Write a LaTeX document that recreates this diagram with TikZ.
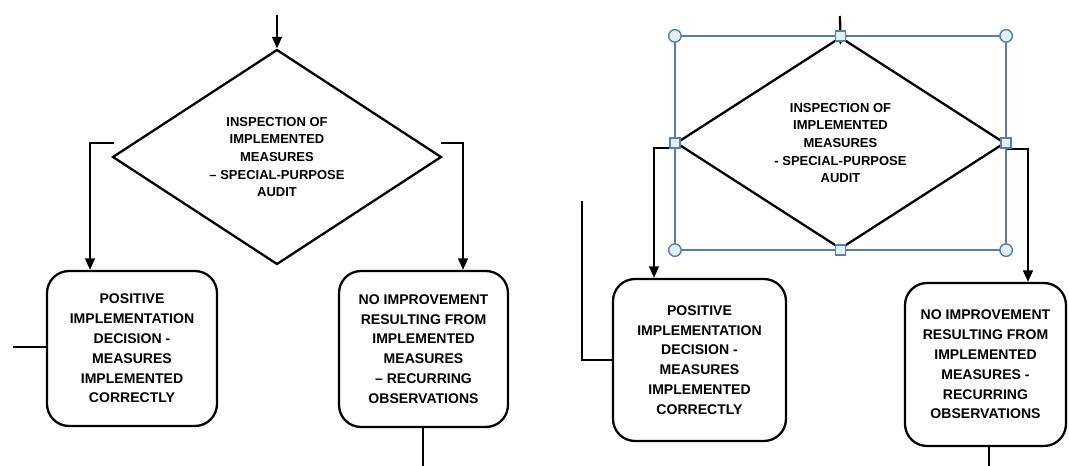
\documentclass[tikz,border=0pt]{standalone}
\usepackage{fontspec}
\setmainfont{Liberation Sans}
\usetikzlibrary{shapes.geometric,arrows.meta}
\definecolor{selblue}{RGB}{88,126,168}
\definecolor{handlefill}{RGB}{226,240,246}
\begin{document}
\begin{tikzpicture}[x=0.02cm, y=-0.02cm, line width=1.3pt, >={Triangle[length=6.5pt,width=5.5pt]},
	decision/.style={draw=black, text=black, shape=diamond, inner sep=0pt, align=center, font=\bfseries\fontsize{7.4}{10}\selectfont},
	outcome/.style={draw=black, text=black, shape=rectangle, rounded corners=0.44cm, inner sep=0pt, align=center, font=\bfseries\fontsize{8}{11.3}\selectfont},
	selframe/.style={draw=selblue, line width=1.3pt},
	cornerhandle/.style={draw=selblue, fill=handlefill, line width=0.8pt, shape=circle, minimum size=0.25cm, inner sep=0pt},
	sidehandle/.style={draw=selblue, fill=handlefill, line width=0.8pt, shape=rectangle, minimum size=0.2cm, inner sep=0pt}]
	\useasboundingbox (0,0) rectangle (1069,466);

	% left copy of the chart
	\node[decision, minimum width=6.58cm, minimum height=4.3cm] (d_a) at (277,157) {INSPECTION OF\\IMPLEMENTED\\MEASURES\\– SPECIAL-PURPOSE\\AUDIT};
	\node[outcome, minimum width=3.4cm, minimum height=3.1cm] (p_a) at (132,348.5) {POSITIVE\\IMPLEMENTATION\\DECISION -\\MEASURES\\IMPLEMENTED\\CORRECTLY};
	\node[outcome, minimum width=3.38cm, minimum height=3.12cm] (p_b) at (423.5,349) {NO IMPROVEMENT\\RESULTING FROM\\IMPLEMENTED\\MEASURES\\– RECURRING\\OBSERVATIONS};

	\coordinate (in_a) at (277,15);
	\coordinate (la_start) at (114,143);
	\coordinate (la_bend) at (90,143);
	\coordinate (ra_start) at (441,143);
	\coordinate (ra_bend) at (463,143);
	\coordinate (loop_a) at (13,347);
	\coordinate (out_a) at (423,466);

	\draw[->] (in_a) -- (d_a.north);
	\draw[->] (la_start) -- (la_bend) -- (la_bend |- p_a.north);
	\draw[->] (ra_start) -- (ra_bend) -- (ra_bend |- p_b.north);
	\draw (loop_a) -- (loop_a -| p_a.west);
	\draw (out_a |- p_b.south) -- (out_a);

	% right copy, diamond selected
	\node[decision, minimum width=6.58cm, minimum height=4.24cm] (d_b) at (840.5,143) {INSPECTION OF\\IMPLEMENTED\\MEASURES\\- SPECIAL-PURPOSE\\AUDIT};
	\node[outcome, minimum width=3.46cm, minimum height=3.24cm] (p_c) at (699.5,360) {POSITIVE\\IMPLEMENTATION\\DECISION -\\MEASURES\\IMPLEMENTED\\CORRECTLY};
	\node[outcome, minimum width=3.22cm, minimum height=3.26cm] (p_d) at (985.5,364.5) {NO IMPROVEMENT\\RESULTING FROM\\IMPLEMENTED\\MEASURES -\\RECURRING\\OBSERVATIONS};

	\coordinate (in_b) at (840,16);
	\coordinate (lb_start) at (676,148);
	\coordinate (lb_bend) at (654,148);
	\coordinate (rb_start) at (1005,149);
	\coordinate (rb_bend) at (1028,149);
	\coordinate (loop_b) at (582,201);
	\coordinate (out_b) at (989,466);

	\draw[->] (in_b) -- ([yshift=-0.18cm]d_b.north);
	\draw[->] (lb_start) -- (lb_bend) -- (lb_bend |- p_c.north);
	\draw[->] (rb_start) -- (rb_bend) -- (rb_bend |- p_d.north);
	\draw (loop_b) |- (p_c.west);
	\draw (out_b |- p_d.south) -- (out_b);

	\draw[selframe] (d_b.west |- d_b.north) rectangle (d_b.east |- d_b.south);
	\foreach \c [count=\i] in {d_b.west |- d_b.north, d_b.east |- d_b.north, d_b.west |- d_b.south, d_b.east |- d_b.south}
		\node[cornerhandle] (hc_\i) at (\c) {};
	\foreach \c [count=\i] in {north, south, west, east}
		\node[sidehandle] (hs_\i) at (d_b.\c) {};
\end{tikzpicture}
\end{document}
